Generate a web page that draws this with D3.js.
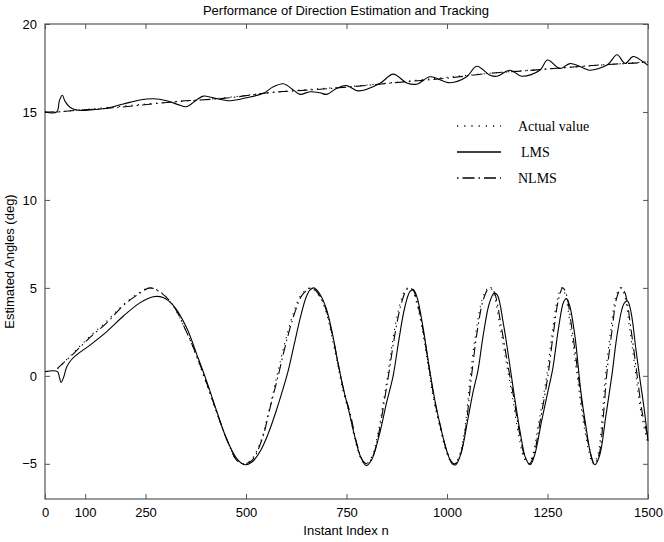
<!DOCTYPE html>
<html>
<head>
<meta charset="utf-8">
<script src="https://cdn.jsdelivr.net/npm/d3@7"></script>
<style>
  body { margin: 0; background: #fff; }
  text { font-family: "Liberation Sans", Arial, sans-serif; }
</style>
</head>
<body>
<div id="chart"></div>
<script>
// tick values
const xTicks = [0, 100, 250, 500, 750, 1000, 1250, 1500];
const yTicks = [-5, 0, 5, 10, 15, 20];

// upper track (around 15-18 deg)
const actualUpN = [0, 30, 80, 236, 444, 568, 759, 900, 1107, 1314, 1480, 1500];
const actualUpV = [15.0, 15.0, 15.1, 15.42, 15.8, 16.12, 16.45, 16.75, 17.2, 17.55, 17.82, 17.86];
const nlmsUpN = [0, 30, 80, 150, 236, 330, 444, 568, 660, 759, 900, 1000, 1107, 1200, 1314, 1400, 1480, 1500];
const nlmsUpV = [15.0, 15.0, 15.1, 15.2, 15.38, 15.6, 15.77, 16.12, 16.25, 16.43, 16.72, 16.92, 17.2, 17.35, 17.56, 17.7, 17.8, 17.85];
const lmsUpN = [0, 29, 36, 43, 50, 62, 79, 112, 153, 195, 236, 269, 303, 336, 352, 377, 394, 419, 460, 502, 543, 568, 593, 618, 634, 659, 684, 701, 726, 750, 779, 833, 866, 900, 925, 958, 1007, 1049, 1074, 1107, 1124, 1157, 1186, 1231, 1250, 1281, 1306, 1339, 1356, 1400, 1423, 1443, 1463, 1485, 1500];
const lmsUpV = [15.0, 15.0, 15.66, 15.95, 15.6, 15.27, 15.11, 15.11, 15.21, 15.45, 15.68, 15.75, 15.64, 15.38, 15.3, 15.68, 15.9, 15.8, 15.64, 15.81, 16.06, 16.43, 16.6, 16.24, 16.0, 16.15, 16.09, 16.0, 16.35, 16.5, 16.2, 16.62, 17.15, 16.65, 16.58, 17.0, 16.66, 17.0, 17.6, 17.09, 17.03, 17.37, 17.03, 17.37, 17.95, 17.47, 17.75, 17.5, 17.37, 17.7, 18.25, 17.76, 18.15, 17.9, 17.65];

// lower track (oscillating around 0 deg)
const actualLowN = [31, 70, 112, 153, 195, 236, 258, 285, 315, 350, 377, 402, 427, 452, 475, 493, 512, 537, 558, 577, 597, 617, 637, 660, 683, 698, 713, 728, 743, 758, 773, 788, 798, 813, 828, 843, 853, 867, 882, 894, 903, 913, 928, 943, 958, 968, 983, 998, 1010, 1018, 1028, 1043, 1058, 1072, 1087, 1100, 1108, 1117, 1132, 1147, 1162, 1177, 1192, 1202, 1212, 1227, 1248, 1262, 1275, 1285, 1293, 1307, 1322, 1337, 1352, 1363, 1375, 1387, 1394, 1407, 1420, 1431, 1440, 1455, 1469, 1482, 1500];
const actualLowV = [0.4, 1.3, 2.25, 3.1, 4.05, 4.75, 5.0, 4.8, 4.1, 2.6, 1.1, -0.5, -2.1, -3.6, -4.75, -5.0, -4.8, -3.7, -1.9, 0.0, 1.9, 3.5, 4.6, 5.0, 4.5, 3.7, 2.3, 0.6, -1.0, -2.2, -3.8, -4.8, -5.0, -4.6, -3.3, -1.3, 0.1, 2.3, 4.0, 4.8, 5.0, 4.9, 3.8, 2.0, -0.2, -1.5, -3.0, -4.3, -4.9, -5.0, -4.7, -3.2, 0.0, 2.5, 4.3, 4.95, 5.0, 4.6, 2.8, 0.8, -1.1, -3.2, -4.7, -5.0, -4.6, -2.8, 0.0, 2.5, 4.4, 5.0, 4.7, 2.8, 0.3, -2.3, -4.2, -5.0, -4.5, -2.0, 0.0, 2.5, 4.5, 5.0, 4.7, 2.6, 0.2, -2.0, -3.9];
const nlmsLowN = [31, 70, 112, 153, 195, 236, 262, 290, 319, 352, 377, 402, 427, 452, 477, 495, 515, 540, 560, 580, 600, 620, 640, 663, 685, 700, 715, 730, 745, 760, 775, 790, 800, 815, 830, 845, 855, 870, 885, 897, 905, 915, 930, 945, 960, 970, 985, 1000, 1012, 1020, 1030, 1045, 1061, 1075, 1090, 1103, 1111, 1120, 1135, 1150, 1165, 1180, 1195, 1205, 1215, 1230, 1251, 1265, 1278, 1288, 1296, 1310, 1325, 1340, 1355, 1366, 1378, 1390, 1397, 1410, 1423, 1434, 1443, 1458, 1472, 1485, 1500];
const nlmsLowV = [0.43, 1.24, 2.19, 3.0, 4.0, 4.7, 5.0, 4.7, 4.0, 2.5, 1.15, -0.4, -2.05, -3.6, -4.8, -5.0, -4.8, -3.6, -1.8, 0.0, 1.9, 3.5, 4.6, 5.0, 4.5, 3.7, 2.3, 0.6, -1.0, -2.2, -3.8, -4.8, -5.0, -4.6, -3.3, -1.3, 0.1, 2.3, 4.0, 4.8, 5.0, 4.9, 3.8, 2.0, -0.2, -1.5, -3.0, -4.3, -4.9, -5.0, -4.7, -3.2, 0.0, 2.5, 4.3, 4.95, 5.0, 4.6, 2.8, 0.8, -1.1, -3.2, -4.7, -5.0, -4.6, -2.8, 0.0, 2.5, 4.4, 5.0, 4.7, 2.8, 0.3, -2.3, -4.2, -5.0, -4.5, -2.0, 0.0, 2.5, 4.5, 5.0, 4.7, 2.6, 0.2, -2.0, -3.5];
const lmsLowN = [0, 31, 36, 40, 46, 54, 65, 79, 112, 153, 195, 236, 269, 294, 319, 352, 377, 402, 427, 452, 477, 497, 515, 535, 555, 575, 590, 605, 620, 635, 650, 660, 669, 685, 700, 715, 730, 745, 755, 770, 785, 799, 812, 830, 850, 866, 880, 895, 908, 916, 925, 940, 955, 970, 985, 1000, 1013, 1022, 1035, 1050, 1065, 1077, 1090, 1105, 1117, 1125, 1140, 1155, 1168, 1182, 1196, 1207, 1218, 1235, 1250, 1263, 1278, 1290, 1297, 1305, 1318, 1333, 1345, 1358, 1368, 1380, 1395, 1410, 1425, 1440, 1449, 1458, 1470, 1480, 1490, 1500];
const lmsLowV = [0.24, 0.24, -0.1, -0.38, -0.1, 0.5, 0.9, 1.2, 1.75, 2.5, 3.4, 4.15, 4.5, 4.45, 4.0, 2.75, 1.25, -0.3, -2.0, -3.6, -4.7, -5.05, -4.9, -4.3, -3.3, -2.0, -0.9, 0.3, 1.8, 3.3, 4.5, 4.9, 5.0, 4.6, 3.8, 2.4, 0.6, -1.0, -1.9, -3.4, -4.6, -5.1, -4.8, -3.5, -1.5, 0.0, 2.0, 3.9, 4.8, 4.9, 4.5, 2.8, 0.6, -1.4, -3.0, -4.3, -5.0, -5.05, -4.4, -2.7, -0.9, 0.3, 2.3, 4.1, 4.7, 4.6, 3.0, 0.8, -1.2, -3.2, -4.7, -5.05, -4.5, -2.6, -1.0, 0.4, 2.8, 4.2, 4.4, 4.0, 2.3, -0.9, -2.8, -4.5, -5.05, -4.5, -2.3, 0.0, 2.6, 4.1, 4.26, 3.6, 1.5, -0.2, -1.8, -3.7];

const legendNames = ["Actual value", "LMS", "NLMS"];

const W = 664, H = 542;
const svg = d3.select("#chart").append("svg")
    .attr("width", W)
    .attr("height", H);

const x = d3.scaleLinear().domain([0, 1500]).range([45, 648]);
const y = d3.scaleLinear().domain([-7, 20]).range([499, 24]);

const axisColor = "#555";

// box
svg.append("rect")
    .attr("x", x(0)).attr("y", y(20))
    .attr("width", x(1500) - x(0)).attr("height", y(-7) - y(20))
    .attr("fill", "none").attr("stroke", axisColor).attr("stroke-width", 1.2);

// axes with inward ticks
const tickLen = 5;
svg.append("g")
    .attr("transform", `translate(0,${y(-7)})`)
    .call(d3.axisBottom(x).tickValues(xTicks).tickFormat(d3.format("d")).tickSizeInner(-tickLen).tickSizeOuter(0).tickPadding(9))
    .call(g => g.select(".domain").remove());
svg.append("g")
    .attr("transform", `translate(0,${y(20)})`)
    .call(d3.axisTop(x).tickValues(xTicks).tickSizeInner(-tickLen).tickSizeOuter(0).tickFormat(""))
    .call(g => g.select(".domain").remove());
svg.append("g")
    .attr("transform", `translate(${x(0)},0)`)
    .call(d3.axisLeft(y).tickValues(yTicks).tickFormat(d3.format("d")).tickSizeInner(-tickLen).tickSizeOuter(0).tickPadding(8))
    .call(g => g.select(".domain").remove());
svg.append("g")
    .attr("transform", `translate(${x(1500)},0)`)
    .call(d3.axisRight(y).tickValues(yTicks).tickSizeInner(-tickLen).tickSizeOuter(0).tickFormat(""))
    .call(g => g.select(".domain").remove());

svg.selectAll(".tick line").attr("stroke", axisColor);
svg.selectAll(".tick text")
    .attr("fill", "#000")
    .style("font-size", "13px")
    .style("font-family", "'Liberation Sans', Arial, sans-serif");

// curves
const line = d3.line()
    .x(d => x(d[0]))
    .y(d => y(d[1]))
    .curve(d3.curveCatmullRom.alpha(0.5));

const zip = (a, b) => a.map((v, i) => [v, b[i]]);

const series = [
    { n: actualUpN, v: actualUpV, dash: "1.2,5" },
    { n: actualLowN, v: actualLowV, dash: "1.2,5" },
    { n: nlmsUpN, v: nlmsUpV, dash: "10,4,1.5,4" },
    { n: nlmsLowN, v: nlmsLowV, dash: "10,4,1.5,4" },
    { n: lmsUpN, v: lmsUpV, dash: null },
    { n: lmsLowN, v: lmsLowV, dash: null }
];

series.forEach(s => {
    svg.append("path")
        .datum(zip(s.n, s.v))
        .attr("d", line)
        .attr("fill", "none")
        .attr("stroke", "#000")
        .attr("stroke-width", 1.1)
        .attr("stroke-dasharray", s.dash);
});

// legend
const legendDash = ["1.2,6", null, "1.5,4,12,4"];
const legendY = [126, 152, 178];
const legendTextX = [518, 521, 518];
legendNames.forEach((name, i) => {
    svg.append("line")
        .attr("x1", 457).attr("x2", 501)
        .attr("y1", legendY[i]).attr("y2", legendY[i])
        .attr("stroke", "#000")
        .attr("stroke-width", 1.3)
        .attr("stroke-dasharray", legendDash[i]);
    svg.append("text")
        .attr("x", legendTextX[i])
        .attr("y", legendY[i])
        .attr("dy", "0.35em")
        .style("font-family", "'Liberation Serif', 'Times New Roman', serif")
        .style("font-size", "14px")
        .text(name);
});

// title and labels
svg.append("text")
    .attr("x", 346).attr("y", 15)
    .attr("text-anchor", "middle")
    .style("font-size", "13px")
    .text("Performance of Direction Estimation and Tracking");

svg.append("text")
    .attr("x", 346).attr("y", 535)
    .attr("text-anchor", "middle")
    .style("font-size", "13px")
    .text("Instant Index n");

svg.append("text")
    .attr("transform", `translate(14,${y(6.5)}) rotate(-90)`)
    .attr("text-anchor", "middle")
    .style("font-size", "13px")
    .text("Estimated Angles (deg)");
</script>
</body>
</html>
